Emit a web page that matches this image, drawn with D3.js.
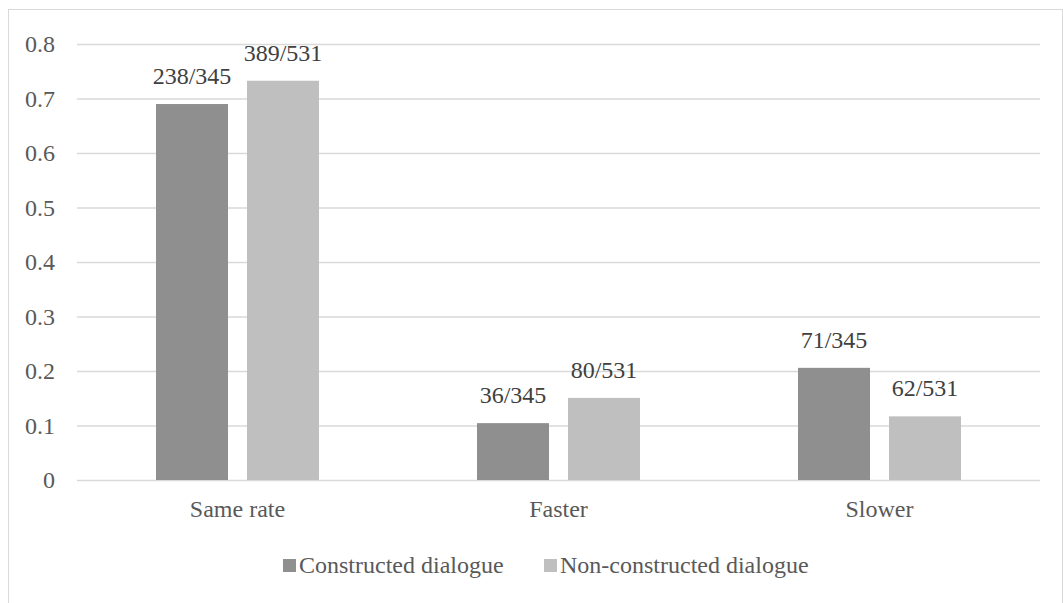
<!DOCTYPE html>
<html>
<head>
<meta charset="utf-8">
<script src="https://cdn.jsdelivr.net/npm/d3@7"></script>
<style>
  html, body { margin: 0; padding: 0; background: #fff; }
  svg { display: block; }
  svg text { font-family: "Liberation Serif", "Times New Roman", Times, serif; }
</style>
</head>
<body>
<svg id="chart" width="1063" height="603"></svg>
<script>
// Speech-rate categories and the two dialogue types
const categories = ["Same rate", "Faster", "Slower"];
const seriesNames = ["Constructed dialogue", "Non-constructed dialogue"];
// Counts per category: numerator / total for each dialogue type
const constructedCounts = [238, 36, 71];
const constructedTotal = 345;
const nonConstructedCounts = [389, 80, 62];
const nonConstructedTotal = 531;
const yTicks = [0, 0.1, 0.2, 0.3, 0.4, 0.5, 0.6, 0.7, 0.8];
const seriesColors = ["#8f8f8f", "#bfbfbf"];

const FONT = "'Liberation Serif', 'Times New Roman', Times, serif";
const FONT_SIZE = 24;

const rows = categories.map((c, i) => ({
  category: c,
  bars: [
    { series: seriesNames[0], n: constructedCounts[i], total: constructedTotal },
    { series: seriesNames[1], n: nonConstructedCounts[i], total: nonConstructedTotal }
  ].map(d => ({ ...d, value: d.n / d.total }))
}));

const svg = d3.select("#chart");

// outer chart frame
svg.append("rect")
  .attr("x", 8.5).attr("y", 9.5)
  .attr("width", 1054).attr("height", 700)
  .attr("fill", "none")
  .attr("stroke", "#d9d9d9")
  .attr("stroke-width", 1);

const plot = { left: 77, right: 1040, top: 44, bottom: 480 };

const x0 = d3.scaleBand()
  .domain(categories)
  .range([plot.left, plot.right])
  .padding(0);

const x1 = d3.scaleBand()
  .domain(seriesNames)
  .range([0, x0.bandwidth()])
  .paddingInner(0.209)
  .paddingOuter(0.868);

const y = d3.scaleLinear()
  .domain([0, 0.8])
  .range([plot.bottom, plot.top]);

const color = d3.scaleOrdinal().domain(seriesNames).range(seriesColors);

// horizontal gridlines and tick labels
const yAxis = d3.axisLeft(y)
  .tickValues(yTicks)
  .tickSize(-(plot.right - plot.left))
  .tickPadding(22)
  .tickFormat(d => d === 0 ? "0" : d3.format(".1f")(d));

const gy = svg.append("g")
  .attr("transform", `translate(${plot.left},0)`)
  .call(yAxis)
  .attr("font-family", FONT)
  .attr("font-size", FONT_SIZE);
gy.select(".domain").remove();
gy.selectAll(".tick line")
  .attr("stroke", "#d9d9d9")
  .attr("stroke-width", 1.6);
gy.selectAll(".tick text")
  .attr("fill", "#595959");

// category labels along the baseline
const xAxis = d3.axisBottom(x0).tickSize(0).tickPadding(20);
const gx = svg.append("g")
  .attr("transform", `translate(0,${plot.bottom})`)
  .call(xAxis)
  .attr("font-family", FONT)
  .attr("font-size", FONT_SIZE);
gx.select(".domain").remove();
gx.selectAll(".tick text")
  .attr("fill", "#595959");

// grouped bars with fraction labels
const groups = svg.append("g")
  .attr("font-family", FONT)
  .selectAll("g")
  .data(rows)
  .join("g")
  .attr("transform", d => `translate(${x0(d.category)},0)`);

groups.selectAll("rect")
  .data(d => d.bars)
  .join("rect")
  .attr("x", d => x1(d.series))
  .attr("y", d => y(d.value))
  .attr("width", x1.bandwidth())
  .attr("height", d => y(0) - y(d.value))
  .attr("fill", d => color(d.series));

groups.selectAll("text.value")
  .data(d => d.bars)
  .join("text")
  .attr("class", "value")
  .attr("x", d => x1(d.series) + x1.bandwidth() / 2)
  .attr("y", d => y(d.value) - 20)
  .attr("text-anchor", "middle")
  .attr("fill", "#404040")
  .attr("font-size", FONT_SIZE)
  .text(d => `${d.n}/${d.total}`);

// legend
const legendItems = [
  { name: seriesNames[0], x: 283 },
  { name: seriesNames[1], x: 544 }
];
const legend = svg.append("g")
  .attr("font-family", FONT)
  .selectAll("g")
  .data(legendItems)
  .join("g")
  .attr("transform", d => `translate(${d.x},559)`);
legend.append("rect")
  .attr("width", 13).attr("height", 13)
  .attr("fill", d => color(d.name));
legend.append("text")
  .attr("x", 16)
  .attr("y", 14)
  .attr("fill", "#595959")
  .attr("font-size", FONT_SIZE)
  .text(d => d.name);
</script>
</body>
</html>
